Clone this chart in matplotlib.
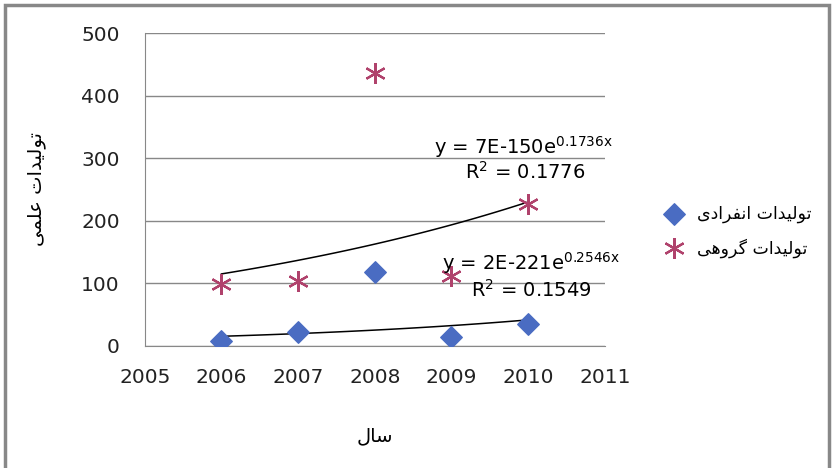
import numpy as np
import matplotlib
matplotlib.use('Agg')
import matplotlib.pyplot as plt
from matplotlib.patches import Rectangle

years = [2006, 2007, 2008, 2009, 2010]
individual = [8, 22, 118, 14, 35]
group = [99, 104, 436, 112, 227]

x_ticks = [2005, 2006, 2007, 2008, 2009, 2010, 2011]
y_ticks = [0, 100, 200, 300, 400, 500]

eq_group = ['y = 7E-150e$^{\\mathregular{0.1736x}}$', 'R$^{\\mathregular{2}}$ = 0.1776']
eq_indiv = ['y = 2E-221e$^{\\mathregular{0.2546x}}$', 'R$^{\\mathregular{2}}$ = 0.1549']

ylabel_fa = 'تولیدات علمی'
xlabel_fa = 'سال'
legend_fa = ['تولیدات انفرادی', 'تولیدات گروهی']

# simple persian shaping (matplotlib does no joining / bidi)
forms = {
    'ت': (0xFE95, 0xFE96, 0xFE97, 0xFE98),
    'و': (0xFEED, 0xFEEE, None, None),
    'ل': (0xFEDD, 0xFEDE, 0xFEDF, 0xFEE0),
    'ی': (0xFBFC, 0xFBFD, 0xFBFE, 0xFBFF),
    'د': (0xFEA9, 0xFEAA, None, None),
    'ا': (0xFE8D, 0xFE8E, None, None),
    'ع': (0xFEC9, 0xFECA, 0xFECB, 0xFECC),
    'م': (0xFEE1, 0xFEE2, 0xFEE3, 0xFEE4),
    'س': (0xFEB1, 0xFEB2, 0xFEB3, 0xFEB4),
    'ن': (0xFEE5, 0xFEE6, 0xFEE7, 0xFEE8),
    'ف': (0xFED1, 0xFED2, 0xFED3, 0xFED4),
    'ر': (0xFEAD, 0xFEAE, None, None),
    'گ': (0xFB92, 0xFB93, 0xFB94, 0xFB95),
    'ه': (0xFEE9, 0xFEEA, 0xFEEB, 0xFEEC),
}


def shape(s):
    out = []
    for i, c in enumerate(s):
        if c not in forms:
            out.append(c)
            continue
        prev = s[i - 1] if i > 0 else ' '
        nxt = s[i + 1] if i < len(s) - 1 else ' '
        join_prev = prev in forms and forms[prev][2] is not None
        join_next = nxt in forms and forms[c][2] is not None
        iso, fin, ini, med = forms[c]
        if join_prev and join_next:
            g = med
        elif join_prev:
            g = fin
        elif join_next:
            g = ini
        else:
            g = iso
        out.append(chr(g))
    return ''.join(out[::-1])


plt.rcParams['font.family'] = ['DejaVu Sans']
plt.rcParams['mathtext.fontset'] = 'dejavusans'

fig = plt.figure(figsize=(8.32, 4.68), dpi=100)
ax = fig.add_axes([0.174, 0.261, 0.553, 0.668])

blue = '#4A6CC2'
pink = '#B0426C'

ax.scatter(years, individual, marker='D', s=120, color=blue, zorder=3,
           label=shape(legend_fa[0]))
ax.plot(years, group, linestyle='none', marker=(6, 2, 0), markersize=15,
        markeredgewidth=1.6, color=pink, zorder=3, label=shape(legend_fa[1]))

# exponential trendlines
xs = np.linspace(2006, 2010, 50)
for vals in (individual, group):
    b, a = np.polyfit(np.array(years) - 2008, np.log(vals), 1)
    ax.plot(xs, np.exp(a + b * (xs - 2008)), color='black', lw=1.1, zorder=2)

ax.set_xlim(2005, 2011)
ax.set_ylim(0, 500)
ax.set_xticks(x_ticks)
ax.set_yticks(y_ticks)
ax.tick_params(length=0, labelsize=14.5, colors='#222222')
ax.tick_params(axis='x', pad=16)
ax.tick_params(axis='y', pad=18)
ax.grid(axis='y', color='#888888', lw=1)
for s in ['top', 'right']:
    ax.spines[s].set_visible(False)
ax.spines['left'].set_color('#888888')
ax.spines['bottom'].set_color('#888888')

ax.set_xlabel(shape(xlabel_fa), fontsize=14, labelpad=28)
ax.set_ylabel(shape(ylabel_fa), fontsize=14, labelpad=25)

ax.text(2011.1, 318, eq_group[0], fontsize=14, ha='right', va='center', clip_on=False)
ax.text(2010.75, 278, eq_group[1], fontsize=14, ha='right', va='center')
ax.text(2011.2, 133, eq_indiv[0], fontsize=14, ha='right', va='center', clip_on=False)
ax.text(2010.83, 89, eq_indiv[1], fontsize=14, ha='right', va='center')

fig.legend(loc='center', bbox_to_anchor=(0.882, 0.505), frameon=False,
           fontsize=12.5, handletextpad=0.3, labelspacing=0.9, scatterpoints=1)

fig.patches.append(Rectangle((5 / 832, -0.1), 824 / 832, 1.1 - 5 / 468,
                             transform=fig.transFigure, fill=False,
                             edgecolor='#888888', lw=2.5))

fig.savefig('out.png', dpi=100)
